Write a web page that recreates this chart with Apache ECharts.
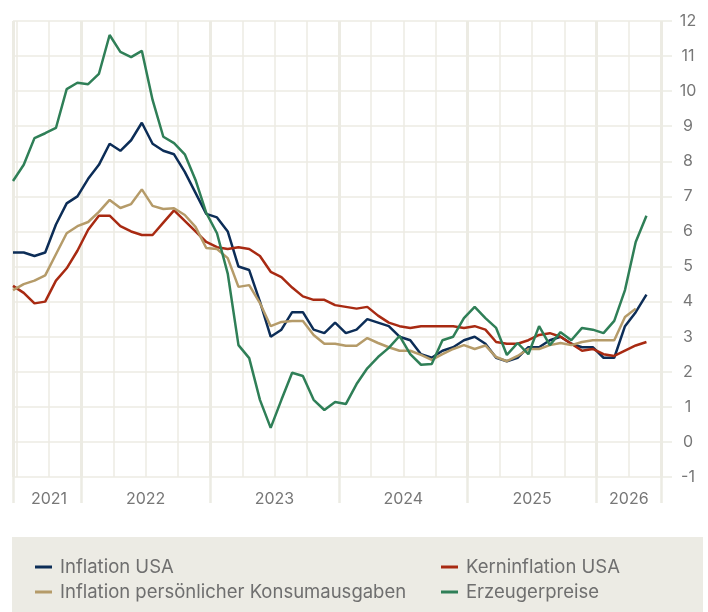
<!DOCTYPE html>
<html>
<head>
<meta charset="utf-8">
<script src="https://cdn.jsdelivr.net/npm/echarts@6/dist/echarts.min.js"></script>
<style>
  html, body { margin: 0; padding: 0; background: #fff; }
  #chart { width: 708px; height: 612px; }
</style>
</head>
<body>
<div id="chart"></div>
<script>
// Monatsdaten (Jahresveränderung in %), Juni 2021 bis Mai 2026
var months = [
  '2021-06', '2021-07', '2021-08', '2021-09', '2021-10', '2021-11', '2021-12',
  '2022-01', '2022-02', '2022-03', '2022-04', '2022-05', '2022-06', '2022-07', '2022-08', '2022-09', '2022-10', '2022-11', '2022-12',
  '2023-01', '2023-02', '2023-03', '2023-04', '2023-05', '2023-06', '2023-07', '2023-08', '2023-09', '2023-10', '2023-11', '2023-12',
  '2024-01', '2024-02', '2024-03', '2024-04', '2024-05', '2024-06', '2024-07', '2024-08', '2024-09', '2024-10', '2024-11', '2024-12',
  '2025-01', '2025-02', '2025-03', '2025-04', '2025-05', '2025-06', '2025-07', '2025-08', '2025-09', '2025-10', '2025-11', '2025-12',
  '2026-01', '2026-02', '2026-03', '2026-04', '2026-05'
];

var inflationUSA = [
  5.4, 5.4, 5.3, 5.4, 6.2, 6.8, 7.0,
  7.5, 7.9, 8.5, 8.3, 8.6, 9.1, 8.5, 8.3, 8.2, 7.7, 7.1, 6.5,
  6.4, 6.0, 5.0, 4.9, 4.0, 3.0, 3.2, 3.7, 3.7, 3.2, 3.1, 3.4,
  3.1, 3.2, 3.5, 3.4, 3.3, 3.0, 2.9, 2.5, 2.4, 2.6, 2.7, 2.9,
  3.0, 2.8, 2.4, 2.3, 2.4, 2.7, 2.7, 2.9, 3.0, 2.8, 2.7, 2.7,
  2.4, 2.4, 3.3, 3.7, 4.2
];

var kerninflationUSA = [
  4.45, 4.25, 3.95, 4.0, 4.6, 4.95, 5.45,
  6.05, 6.45, 6.45, 6.15, 6.0, 5.9, 5.9, 6.25, 6.6, 6.3, 6.0, 5.7,
  5.55, 5.5, 5.55, 5.5, 5.3, 4.85, 4.7, 4.4, 4.15, 4.05, 4.05, 3.9,
  3.85, 3.8, 3.85, 3.6, 3.4, 3.3, 3.25, 3.3, 3.3, 3.3, 3.3, 3.25,
  3.3, 3.2, 2.85, 2.8, 2.8, 2.9, 3.05, 3.1, 3.0, 2.8, 2.6, 2.65,
  2.5, 2.45, 2.6, 2.75, 2.85
];

var konsumausgaben = [
  4.33, 4.5, 4.6, 4.75, 5.35, 5.95, 6.15,
  6.27, 6.56, 6.9, 6.67, 6.78, 7.2, 6.73, 6.64, 6.66, 6.47, 6.13, 5.53,
  5.5, 5.24, 4.42, 4.47, 3.96, 3.3, 3.42, 3.45, 3.45, 3.05, 2.8, 2.8,
  2.74, 2.74, 2.96, 2.82, 2.7, 2.6, 2.6, 2.48, 2.34, 2.5, 2.65, 2.76,
  2.65, 2.75, 2.42, 2.3, 2.45, 2.65, 2.65, 2.76, 2.82, 2.76, 2.85, 2.9,
  2.9, 2.9, 3.56, 3.8, null
];

var erzeugerpreise = [
  7.44, 7.9, 8.66, 8.8, 8.95, 10.06, 10.24,
  10.2, 10.49, 11.6, 11.12, 10.97, 11.15, 9.75, 8.7, 8.52, 8.2, 7.47, 6.53,
  5.95, 4.8, 2.76, 2.39, 1.2, 0.4, 1.2, 1.97, 1.88, 1.2, 0.91, 1.14,
  1.08, 1.65, 2.1, 2.42, 2.68, 3.02, 2.5, 2.2, 2.22, 2.9, 3.0, 3.53,
  3.85, 3.53, 3.25, 2.48, 2.82, 2.5, 3.3, 2.76, 3.13, 2.9, 3.25, 3.2,
  3.1, 3.45, 4.33, 5.7, 6.45
];

var years = ['2021', '2022', '2023', '2024', '2025', '2026'];
var yTicks = { min: -1, max: 12, step: 1 };

var seriesNames = ['Inflation USA', 'Kerninflation USA', 'Inflation persönlicher Konsumausgaben', 'Erzeugerpreise'];
var seriesColors = ['#0c2d57', '#a82a12', '#b59b69', '#2f7f57'];

// Monatsindex ab Januar 2021, Werte liegen jeweils um den 20. des Monats
var baseYear = 2021;
var dayInMonth = 20 / 31;
function monthPos(s) {
  var p = s.split('-');
  return (parseInt(p[0], 10) - baseYear) * 12 + (parseInt(p[1], 10) - 1) + dayInMonth;
}
var xMin = monthPos(months[0]);
var xMax = (2026 - baseYear) * 12 + 6; // Ende Juni 2026

// Jahreslabel auf dem Quartalsstrich nahe der Mitte des sichtbaren Jahres
var yearLabelAt = {};
years.forEach(function (y) {
  var s = Math.max(xMin, (parseInt(y, 10) - baseYear) * 12);
  var e = Math.min(xMax, (parseInt(y, 10) - baseYear + 1) * 12);
  yearLabelAt[Math.round((s + e) / 2 / 3) * 3] = y;
});

function pairs(arr) {
  return months.map(function (m, i) { return [monthPos(m), arr[i]]; });
}

var gridColor = '#ecebe3';
var textColor = '#777777';
var font = 'Inter';

var legendText = { color: '#6f6f6f', fontSize: 18.5, fontFamily: font, lineHeight: 20, padding: [0, 0, 0, 3] };

var chart = echarts.init(document.getElementById('chart'));

var option = {
  animation: false,
  backgroundColor: '#ffffff',
  grid: { left: 13, right: 47, top: 21, bottom: 135 },
  graphic: [{
    type: 'rect',
    left: 12,
    top: 537,
    z: -10,
    shape: { width: 691, height: 75 },
    style: { fill: '#ecebe4' }
  }],
  legend: [{
    orient: 'vertical',
    left: 35,
    top: 557,
    padding: 0,
    icon: 'rect',
    itemWidth: 17,
    itemHeight: 3,
    itemGap: 5,
    data: [seriesNames[0], seriesNames[2]],
    textStyle: legendText
  }, {
    orient: 'vertical',
    left: 441,
    top: 557,
    padding: 0,
    icon: 'rect',
    itemWidth: 17,
    itemHeight: 3,
    itemGap: 5,
    data: [seriesNames[1], seriesNames[3]],
    textStyle: legendText
  }],
  xAxis: [{
    type: 'value',
    position: 'bottom',
    min: xMin,
    max: xMax,
    minInterval: 3,
    maxInterval: 3,
    axisLine: { show: false },
    axisTick: { show: false },
    splitLine: { show: true, lineStyle: { color: gridColor, width: 1.5 } },
    axisLabel: {
      color: textColor,
      fontSize: 16,
      fontFamily: font,
      margin: 14,
      showMinLabel: true,
      showMaxLabel: true,
      formatter: function (v) {
        var k = Math.round(v);
        return Math.abs(v - k) < 1e-6 && yearLabelAt[k] ? yearLabelAt[k] : '';
      }
    }
  }, {
    type: 'value',
    position: 'bottom',
    min: xMin,
    max: xMax,
    minInterval: 12,
    maxInterval: 12,
    axisLine: { show: false },
    axisTick: { show: true, length: 26, lineStyle: { color: gridColor, width: 2.5 } },
    splitLine: { show: true, lineStyle: { color: gridColor, width: 3 } },
    axisLabel: { show: false }
  }],
  yAxis: {
    type: 'value',
    position: 'right',
    min: yTicks.min,
    max: yTicks.max,
    interval: yTicks.step,
    axisLine: { show: false },
    axisTick: { show: true, length: 11, lineStyle: { color: gridColor, width: 1.5 } },
    splitLine: { show: true, lineStyle: { color: gridColor, width: 1.5 } },
    axisLabel: { color: textColor, fontSize: 16, fontFamily: font, align: 'center', margin: 27 }
  },
  series: [
    inflationUSA, kerninflationUSA, konsumausgaben, erzeugerpreise
  ].map(function (arr, i) {
    return {
      name: seriesNames[i],
      type: 'line',
      xAxisIndex: 0,
      data: pairs(arr),
      showSymbol: false,
      symbol: 'none',
      connectNulls: false,
      color: seriesColors[i],
      lineStyle: { color: seriesColors[i], width: 2.5 }
    };
  })
};

chart.setOption(option);
</script>
</body>
</html>
